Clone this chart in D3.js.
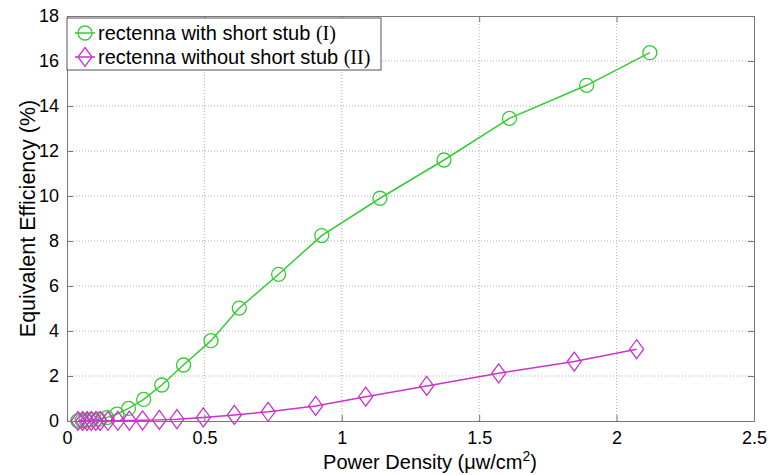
<!DOCTYPE html>
<html><head><meta charset="utf-8">
<script src="https://cdn.jsdelivr.net/npm/d3@7"></script>
<style>body{margin:0;background:#fff}svg{display:block}</style>
</head><body>
<script>
// Data
const xTicks = [0, 0.5, 1, 1.5, 2, 2.5];
const yTicks = [0, 2, 4, 6, 8, 10, 12, 14, 16, 18];
const xTickLabels = ["0", "0.5", "1", "1.5", "2", "2.5"];
const yTickLabels = ["0", "2", "4", "6", "8", "10", "12", "14", "16", "18"];

const seriesNames = ["rectenna with short stub ", "rectenna without short stub "];
const seriesTags = ["(I)", "(II)"];

const stubX = [0.04, 0.055, 0.07, 0.09, 0.115, 0.145, 0.182, 0.224, 0.279, 0.345, 0.424, 0.524, 0.627, 0.770, 0.927, 1.139, 1.372, 1.610, 1.891, 2.121];
const stubY = [0.01, 0.02, 0.03, 0.05, 0.08, 0.15, 0.31, 0.56, 0.96, 1.60, 2.49, 3.57, 5.02, 6.52, 8.24, 9.90, 11.60, 13.45, 14.92, 16.37];

const noStubX = [0.04, 0.057, 0.073, 0.088, 0.105, 0.121, 0.149, 0.185, 0.227, 0.275, 0.336, 0.40, 0.496, 0.609, 0.732, 0.905, 1.087, 1.309, 1.571, 1.846, 2.073];
const noStubY = [0, 0, 0, 0, 0, 0, 0.01, 0.01, 0.02, 0.03, 0.05, 0.08, 0.16, 0.27, 0.41, 0.67, 1.08, 1.56, 2.12, 2.64, 3.19];

const W = 772, H = 475;
const m = {left: 67, right: 18, top: 16, bottom: 54};
const green = "#33cc33", magenta = "#cc33cc";

const svg = d3.select("body").append("svg").attr("width", W).attr("height", H)
  .style("font-family", "Arial, 'Liberation Sans', sans-serif");

const x = d3.scaleLinear().domain([0, 2.5]).range([m.left, W - m.right]);
const y = d3.scaleLinear().domain([0, 18]).range([H - m.bottom, m.top]);

// grid
const grid = svg.append("g");
grid.selectAll("line.vx").data(xTicks.slice(1, -1)).enter().append("line")
  .attr("x1", d => x(d)).attr("x2", d => x(d)).attr("y1", y(0)).attr("y2", y(18))
  .attr("stroke", "#b0b0b0").attr("stroke-width", 1).attr("stroke-dasharray", "1,2");
grid.selectAll("line.hy").data(yTicks.slice(1, -1)).enter().append("line")
  .attr("y1", d => y(d)).attr("y2", d => y(d)).attr("x1", x(0)).attr("x2", x(2.5))
  .attr("stroke", "#b0b0b0").attr("stroke-width", 1).attr("stroke-dasharray", "1,2");

// axes
const xAxis = d3.axisBottom(x).tickValues(xTicks).tickFormat((d, i) => xTickLabels[i]).tickSizeInner(-6).tickSizeOuter(0).tickPadding(8);
const yAxis = d3.axisLeft(y).tickValues(yTicks).tickFormat((d, i) => yTickLabels[i]).tickSizeInner(-6).tickSizeOuter(0).tickPadding(8);
const gx = svg.append("g").attr("transform", `translate(0,${y(0)})`).call(xAxis);
const gy = svg.append("g").attr("transform", `translate(${x(0)},0)`).call(yAxis);
const gx2 = svg.append("g").attr("transform", `translate(0,${y(18)})`).call(d3.axisTop(x).tickValues(xTicks).tickFormat("").tickSizeInner(-6).tickSizeOuter(0));
const gy2 = svg.append("g").attr("transform", `translate(${x(2.5)},0)`).call(d3.axisRight(y).tickValues(yTicks).tickFormat("").tickSizeInner(-6).tickSizeOuter(0));
[gx, gy, gx2, gy2].forEach(g => {
  g.select(".domain").attr("stroke", "#777");
  g.selectAll(".tick line").attr("stroke", "#777");
  g.selectAll(".tick text").attr("fill", "#000").style("font-size", "18px").style("font-family", "Arial, 'Liberation Sans', sans-serif");
});
gx.selectAll(".tick text").attr("dy", "0.85em");

// axis labels
svg.append("text").attr("x", 430).attr("y", 469).attr("text-anchor", "middle")
  .style("font-size", "20px").attr("fill", "#000")
  .html('Power Density (<tspan>μ</tspan>w/cm<tspan dy="-8" style="font-size:14px">2</tspan><tspan dy="8">)</tspan>');
svg.append("text").attr("transform", `translate(35,${(y(0) + y(18)) / 2}) rotate(-90)`)
  .attr("text-anchor", "middle").style("font-size", "21.5px").attr("fill", "#000")
  .text("Equivalent Efficiency (%)");

const line = d3.line().x(d => x(d[0])).y(d => y(d[1]));
const s1 = stubX.map((v, i) => [v, stubY[i]]);
const s2 = noStubX.map((v, i) => [v, noStubY[i]]);

const diamond = (cx, cy) => `M${cx},${cy - 9.5}L${cx + 7},${cy}L${cx},${cy + 9.5}L${cx - 7},${cy}Z`;

svg.append("path").datum(s1).attr("d", line).attr("fill", "none").attr("stroke", green).attr("stroke-width", 1.5);
svg.append("g").selectAll("circle").data(s1).enter().append("circle")
  .attr("cx", d => x(d[0])).attr("cy", d => y(d[1])).attr("r", 7)
  .attr("fill", "none").attr("stroke", green).attr("stroke-width", 1.3);

svg.append("path").datum(s2).attr("d", line).attr("fill", "none").attr("stroke", magenta).attr("stroke-width", 1.5);
svg.append("g").selectAll("path").data(s2).enter().append("path")
  .attr("d", d => diamond(x(d[0]), y(d[1])))
  .attr("fill", "none").attr("stroke", magenta).attr("stroke-width", 1.3);

// legend
const lg = svg.append("g");
lg.append("rect").attr("x", 67).attr("y", 18).attr("width", 314).attr("height", 52)
  .attr("fill", "#fff").attr("stroke", "#555").attr("stroke-width", 1);
const rows = [{c: green, yy: 33, m: "circle"}, {c: magenta, yy: 57, m: "diamond"}];
rows.forEach((r, i) => {
  lg.append("line").attr("x1", 75).attr("x2", 95).attr("y1", r.yy).attr("y2", r.yy).attr("stroke", r.c).attr("stroke-width", 1.5);
  if (r.m === "circle") lg.append("circle").attr("cx", 85).attr("cy", r.yy).attr("r", 7).attr("fill", "none").attr("stroke", r.c).attr("stroke-width", 1.3);
  else lg.append("path").attr("d", diamond(85, r.yy)).attr("fill", "none").attr("stroke", r.c).attr("stroke-width", 1.3);
  const t = lg.append("text").attr("x", 98).attr("y", r.yy + 7).style("font-size", "20px").attr("fill", "#000");
  t.append("tspan").text(seriesNames[i]);
  t.append("tspan").style("font-family", "'Liberation Serif', 'Times New Roman', serif").text(seriesTags[i]);
});
</script>
</body></html>
